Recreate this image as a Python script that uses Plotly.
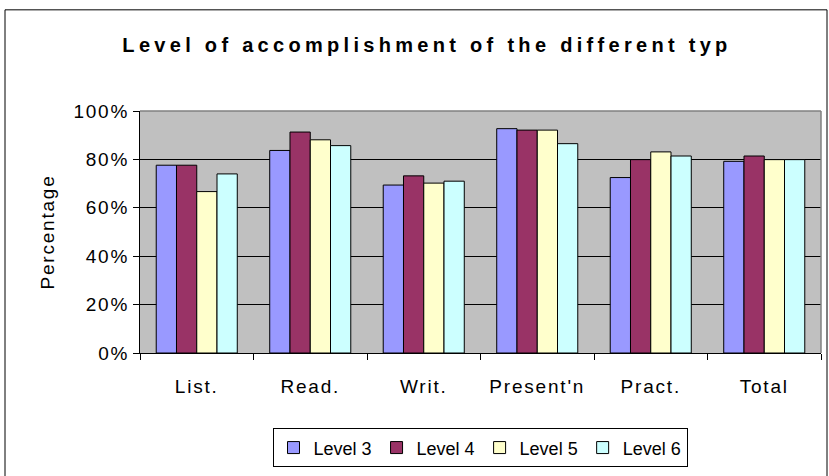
import plotly.graph_objects as go

categories = ["List.", "Read.", "Writ.", "Present'n", "Pract.", "Total"]
series_names = ["Level 3", "Level 4", "Level 5", "Level 6"]
level3 = [0.776, 0.837, 0.694, 0.927, 0.725, 0.792]
level4 = [0.776, 0.913, 0.732, 0.921, 0.799, 0.814]
level5 = [0.667, 0.881, 0.702, 0.921, 0.831, 0.799]
level6 = [0.740, 0.857, 0.710, 0.865, 0.814, 0.799]
series_values = [level3, level4, level5, level6]
colors = ["#9999FF", "#993366", "#FFFFCC", "#CCFFFF"]
y_ticks = [0, 0.2, 0.4, 0.6, 0.8, 1.0]
y_tick_labels = ["0%", "20%", "40%", "60%", "80%", "100%"]
title_text = "Level of accomplishment of the different typ"
y_title = "Percentage"

FONT = "Liberation Sans, Arial, sans-serif"
W, H = 829, 476
L, R, T, B = 140, 8, 111, 121
pw = W - L - R
ph = H - T - B


def spaced(s, px):
    return '<span style="letter-spacing:%.1fpx">%s</span>' % (px, s)


fig = go.Figure()
for name, vals, col in zip(series_names, series_values, colors):
    fig.add_trace(go.Bar(
        x=categories, y=vals, name=name,
        marker=dict(color=col, line=dict(color="#000000", width=1)),
    ))


def px_x(px):
    return (px - L) / pw


def px_y(py):
    return (H - B - py) / ph


shapes = [
    dict(type="rect", xref="paper", yref="paper",
         x0=px_x(5), x1=px_x(827), y0=px_y(490), y1=px_y(9),
         line=dict(color="#000000", width=1), fillcolor="rgba(0,0,0,0)", layer="above"),
    dict(type="line", xref="paper", yref="paper", x0=0, x1=1, y0=1, y1=1,
         line=dict(color="#808080", width=1.5), layer="above"),
    dict(type="line", xref="paper", yref="paper", x0=1, x1=1, y0=0, y1=1,
         line=dict(color="#808080", width=1.5), layer="above"),
]

fig.update_layout(
    width=W, height=H,
    margin=dict(l=L, r=R, t=T, b=B, pad=0),
    paper_bgcolor="#FFFFFF",
    plot_bgcolor="#C0C0C0",
    barmode="group",
    bargap=0.286,
    bargroupgap=0,
    font=dict(family=FONT, size=19, color="#000000"),
    title=dict(
        text=spaced(title_text, 4.3),
        font=dict(family=FONT, size=20, color="#000000", weight="bold"),
        x=427 / W, xanchor="center", xref="container",
        y=1 - 45 / H, yanchor="middle", yref="container",
    ),
    xaxis=dict(
        type="category",
        tickvals=categories,
        ticktext=[spaced(c, 1.8) for c in categories],
        showline=True, linecolor="#000000", linewidth=1,
        ticks="outside", tickson="boundaries", ticklen=6, tickcolor="#000000", tickwidth=1,
        showgrid=False,
        ticklabelstandoff=16,
        tickfont=dict(family=FONT, size=19),
        fixedrange=True,
    ),
    yaxis=dict(
        range=[0, 1], tickvals=y_ticks,
        ticktext=[spaced(t, 1.8) for t in y_tick_labels],
        showline=True, linecolor="#000000", linewidth=1,
        ticks="outside", ticklen=6, tickcolor="#000000", tickwidth=1,
        showgrid=True, gridcolor="#000000", gridwidth=1,
        zeroline=False,
        tickfont=dict(family=FONT, size=19),
        title=dict(text=spaced(y_title, 1.8), font=dict(family=FONT, size=19), standoff=13),
    ),
    legend=dict(
        orientation="h",
        x=px_x(480), xanchor="center",
        y=px_y(431), yanchor="top",
        bordercolor="#000000", borderwidth=1, bgcolor="#FFFFFF",
        font=dict(family=FONT, size=18),
        itemwidth=30,
        traceorder="normal",
    ),
    shapes=shapes,
    showlegend=True,
)

fig.write_html(
    "out.html",
    config={"displayModeBar": False},
    post_script="document.body.style.margin='0px';document.body.style.overflow='hidden';",
)
